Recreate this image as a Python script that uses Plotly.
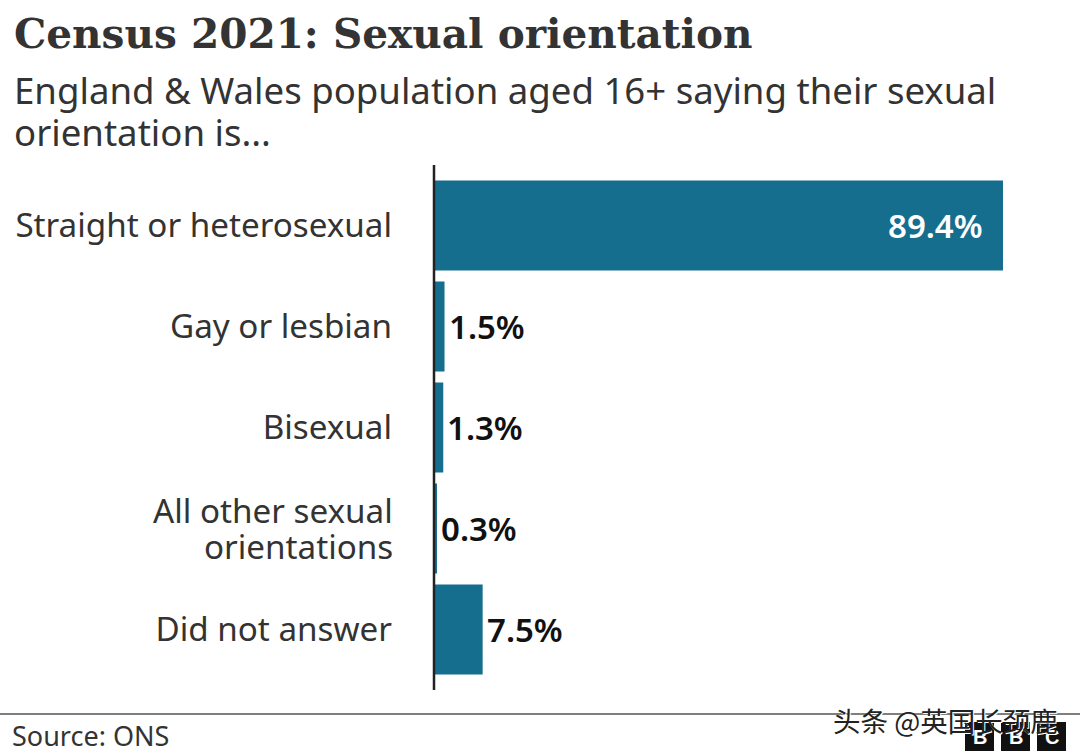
import plotly.graph_objects as go

# data
categories = ["Straight or heterosexual", "Gay or lesbian", "Bisexual", "All other sexual orientations", "Did not answer"]
tick_labels = ["Straight or heterosexual", "Gay or lesbian", "Bisexual", "", "Did not answer"]
values = [89.4, 1.5, 1.3, 0.3, 7.5]
value_labels = ["89.4%", "1.5%", "1.3%", "0.3%", "7.5%"]

BAR_COLOUR = "#156e8e"
TEXT_COLOUR = "#333333"
FONT = "Noto Sans"

fig = go.Figure()
fig.add_trace(go.Bar(
    y=categories,
    x=values,
    orientation="h",
    width=0.89,
    marker=dict(color=BAR_COLOUR, line=dict(width=0)),
    hoverinfo="skip",
))

fig.update_layout(
    width=1080,
    height=756,
    autosize=False,
    showlegend=False,
    paper_bgcolor="white",
    plot_bgcolor="white",
    margin=dict(l=0, r=0, t=0, b=0),
    font=dict(family=FONT, color=TEXT_COLOUR),
    xaxis=dict(domain=[435/1080, 1003/1080], range=[0, 89.4], visible=False),
    yaxis=dict(
        domain=[1 - 680/756, 1 - 175/756],
        autorange="reversed",
        tickmode="array",
        tickvals=categories,
        ticktext=tick_labels,
        ticks="",
        tickfont=dict(family=FONT, size=33.2, color=TEXT_COLOUR),
        ticklabelstandoff=42,
        showgrid=False,
        showline=False,
        zeroline=False,
    ),
)

# this category wraps tighter than plotly's <br> spacing, so one annotation per line
for line, shift in [("All other sexual", 18), ("orientations", -18)]:
    fig.add_annotation(text=line, x=0, y=categories[3], xref="x", yref="y",
                       xanchor="right", xshift=-40, yshift=shift, showarrow=False,
                       font=dict(family=FONT, size=33.2, color=TEXT_COLOUR))

# value labels, white inside the long bar
for cat, val, label in zip(categories, values, value_labels):
    inside = val > 50
    fig.add_annotation(text=label, x=val, y=cat, xref="x", yref="y",
                       xanchor="right" if inside else "left",
                       xshift=-18 if inside else 2,
                       showarrow=False,
                       font=dict(family=FONT, size=33, weight=600,
                                 color="white" if inside else "#111111"))

# vertical baseline
fig.add_shape(type="line", xref="paper", yref="paper",
              x0=434/1080, x1=434/1080, y0=1 - 690/756, y1=1 - 165/756,
              line=dict(color="#222222", width=2.5))
# footer rule
fig.add_shape(type="line", xref="paper", yref="paper",
              x0=0, x1=1, y0=1 - 714/756, y1=1 - 714/756,
              line=dict(color="#555555", width=1.5))

fig.add_annotation(text="<b>Census 2021: Sexual orientation</b>", xref="paper", yref="paper",
                   x=11.5/1080, y=1 - 34/756, xanchor="left", yanchor="middle", showarrow=False,
                   font=dict(family="DejaVu Serif", size=40.6, color=TEXT_COLOUR))
for line, ypos in [("England &amp; Wales population aged 16+ saying their sexual", 90.5),
                   ("orientation is...", 132.5)]:
    fig.add_annotation(text=line, xref="paper", yref="paper",
                       x=11.5/1080, y=1 - ypos/756, xanchor="left", yanchor="middle",
                       showarrow=False, font=dict(family=FONT, size=36.6, color=TEXT_COLOUR))
fig.add_annotation(text="Source: ONS", xref="paper", yref="paper",
                   x=10/1080, y=1 - 735/756, xanchor="left", yanchor="middle", showarrow=False,
                   font=dict(family=FONT, size=27, color=TEXT_COLOUR))

# BBC blocks
for left, letter in zip([965, 1001, 1037], "BBC"):
    fig.add_shape(type="rect", xref="paper", yref="paper",
                  x0=left/1080, x1=(left+29)/1080, y0=1 - 751/756, y1=1 - 722/756,
                  fillcolor="#111111", line=dict(width=0))
    fig.add_annotation(text="<b>%s</b>" % letter, xref="paper", yref="paper",
                       x=(left+14.5)/1080, y=1 - 736.5/756, xanchor="center", yanchor="middle",
                       showarrow=False, font=dict(family="Liberation Sans", size=20, color="white"))

# watermark sits over the rule and the blocks
fig.add_annotation(text="头条 @英国长颈鹿", xref="paper", yref="paper",
                   x=1060/1080, y=1 - 720/756, xanchor="right", yanchor="middle", showarrow=False,
                   font=dict(family="Noto Sans CJK SC", size=27.5, color="#222222",
                             shadow="1px 1px 0 #ffffff"))

# the page's default body margin would push the chart off the 1080x756 window
fig.write_html("out.html", config=dict(displayModeBar=False),
               post_script="document.body.style.margin = '0';")
